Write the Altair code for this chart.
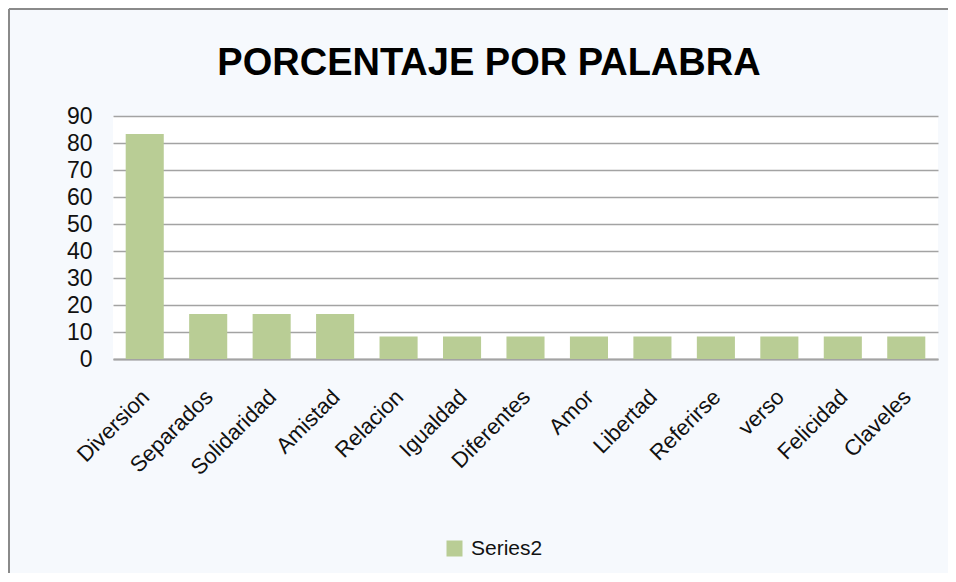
import altair as alt
import pandas as pd

palabras = ["Diversion", "Separados", "Solidaridad", "Amistad", "Relacion", "Igualdad",
            "Diferentes", "Amor", "Libertad", "Referirse", "verso", "Felicidad", "Claveles"]
porcentajes = [83.33, 16.67, 16.67, 16.67, 8.33, 8.33, 8.33, 8.33, 8.33, 8.33, 8.33, 8.33, 8.33]
serie = ["Series2"] * len(palabras)
y_ticks = [0, 10, 20, 30, 40, 50, 60, 70, 80, 90]
titulo = "PORCENTAJE POR PALABRA"

df = pd.DataFrame({"palabra": palabras, "porcentaje": porcentajes, "serie": serie})

FONT = "Liberation Sans"
GRID = "#a3a3a3"

bars = alt.Chart(df).mark_bar(color="#b9cd95").encode(
    x=alt.X("palabra:N", sort=palabras, title=None,
            scale=alt.Scale(paddingInner=0.4, paddingOuter=0.2),
            axis=alt.Axis(labelAngle=-45, labelFontSize=22, labelFont=FONT,
                          labelColor="#111111", ticks=False, domain=True,
                          domainColor=GRID, domainWidth=2, labelPadding=27,
                          labelOffset=-6, grid=False)),
    y=alt.Y("porcentaje:Q", title=None,
            scale=alt.Scale(domain=[0, 90], nice=False),
            axis=alt.Axis(values=y_ticks, labelFontSize=23, labelFont=FONT,
                          labelColor="#111111", ticks=False, domain=False,
                          gridColor=GRID, gridWidth=1.6, labelPadding=21)),
    color=alt.Color("serie:N", scale=alt.Scale(range=["#b9cd95"]),
                    legend=alt.Legend(title=None, orient="none", legendX=331, legendY=422,
                                      symbolType="square", symbolSize=256,
                                      symbolStrokeWidth=0, labelFontSize=21,
                                      labelFont=FONT, labelColor="#111111",
                                      labelOffset=6, padding=0)),
)

frame_df = pd.DataFrame({"t": [titulo]})
top_border = alt.Chart(frame_df).mark_rule(color="#8a8a8a", strokeWidth=2).encode(
    x=alt.value(-104), x2=alt.value(840), y=alt.value(-107))
left_border = alt.Chart(frame_df).mark_rule(color="#8a8a8a", strokeWidth=2).encode(
    x=alt.value(-104), y=alt.value(-107), y2=alt.value(460))
title = alt.Chart(frame_df).mark_text(
    font=FONT, fontSize=38, fontWeight="bold", color="#000000",
    align="center", baseline="alphabetic").encode(
    text="t:N", x=alt.value(376), y=alt.value(-41))

chart = alt.layer(bars, top_border, left_border, title).properties(
    width=825, height=243,
    padding={"left": 105, "top": 108, "right": 10, "bottom": 214},
    autosize=alt.AutoSizeParams(type="none"),
    background="#f6f9fd",
).configure_view(fill="white", stroke=None)

chart.save("out.html", embed_options={"renderer": "svg", "actions": False})
